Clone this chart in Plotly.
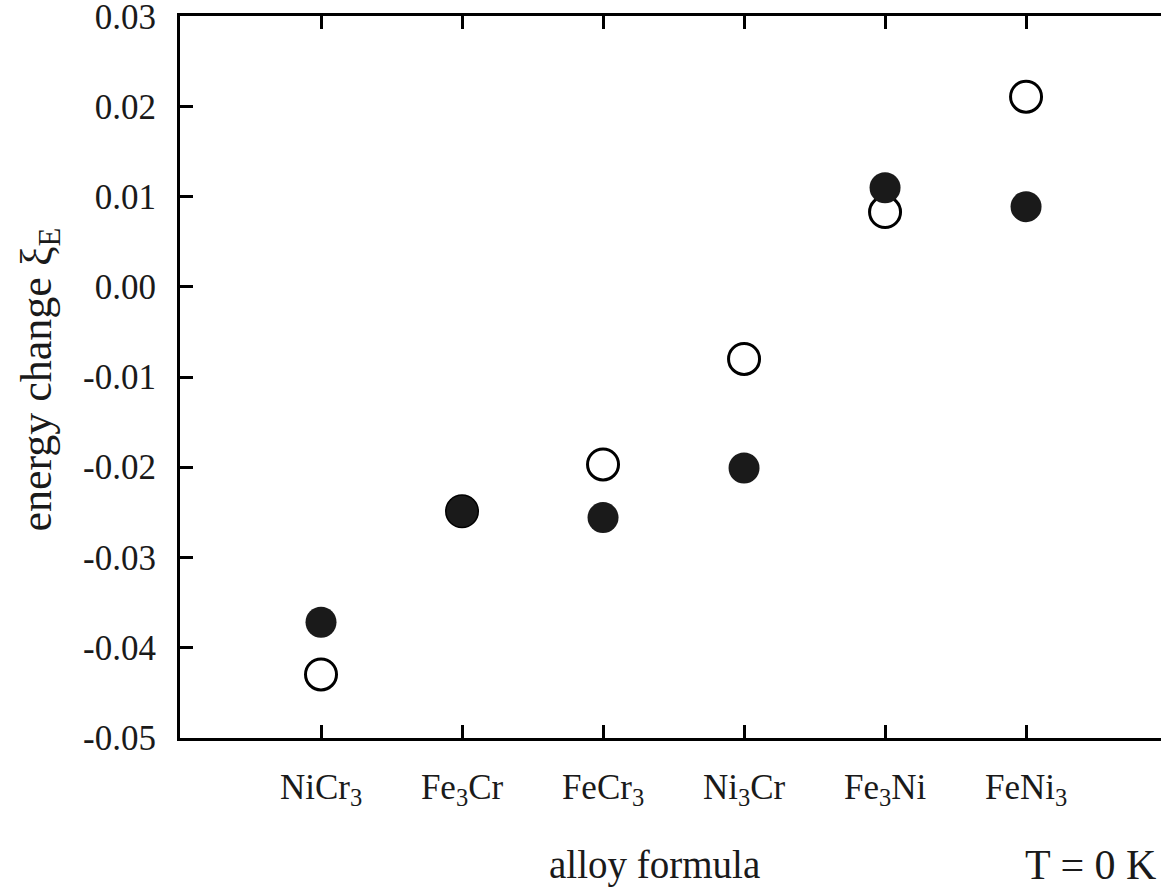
import plotly.graph_objects as go

categories = ["NiCr<sub>3</sub>", "Fe<sub>3</sub>Cr", "FeCr<sub>3</sub>", "Ni<sub>3</sub>Cr", "Fe<sub>3</sub>Ni", "FeNi<sub>3</sub>"]
cat_pos = [1, 2, 3, 4, 5, 6]
open_vals = [-0.0430, -0.0249, -0.0197, -0.0080, 0.0083, 0.0211]
filled_vals = [-0.0372, -0.0249, -0.0256, -0.0201, 0.0110, 0.0089]
y_ticks = [0.03, 0.02, 0.01, 0.00, -0.01, -0.02, -0.03, -0.04, -0.05]
y_ticktext = ["0.03", "0.02", "0.01", "0.00", "-0.01", "-0.02", "-0.03", "-0.04", "-0.05"]

FONT = "Liberation Serif"
Y_RANGE = [-0.05005, 0.03005]

fig = go.Figure()
fig.add_trace(go.Scatter(
    x=cat_pos, y=open_vals, mode="markers",
    marker=dict(size=31, color="white", line=dict(color="black", width=3)),
    showlegend=False, cliponaxis=False))
fig.add_trace(go.Scatter(
    x=cat_pos, y=filled_vals, mode="markers",
    marker=dict(size=31, color="#1a1a1a", line=dict(color="#1a1a1a", width=0)),
    showlegend=False, cliponaxis=False))

fig.update_layout(
    xaxis=dict(
        range=[0, 6.957], tickvals=cat_pos, ticktext=categories,
        showline=True, linecolor="black", linewidth=3, mirror="ticks",
        ticks="inside", ticklen=13, tickwidth=3, tickcolor="black",
        showgrid=False, zeroline=False, automargin=False,
        tickfont=dict(family=FONT, size=35, color="#1a1a1a"),
        ticklabelstandoff=16, ticklabeloverflow="allow"),
    yaxis=dict(
        range=Y_RANGE, tickvals=y_ticks, ticktext=y_ticktext,
        showline=True, linecolor="black", linewidth=3, mirror=False,
        ticks="inside", ticklen=13, tickwidth=3, tickcolor="black",
        showgrid=False, zeroline=False, automargin=False,
        tickfont=dict(family=FONT, size=35, color="#1a1a1a"),
        ticklabelstandoff=14, ticklabeloverflow="allow"),
    yaxis2=dict(
        range=Y_RANGE, tickvals=y_ticks, overlaying="y", side="right",
        showline=False, showticklabels=False,
        ticks="inside", ticklen=13, tickwidth=3, tickcolor="black",
        showgrid=False, zeroline=False, automargin=False),
)

fig.add_annotation(text="alloy formula", xref="paper", yref="paper",
                   x=0.484, y=-0.176, showarrow=False, xanchor="center", yanchor="middle",
                   font=dict(family=FONT, size=39, color="#1a1a1a"))
fig.add_annotation(text="T = 0 K", xref="paper", yref="paper",
                   x=0.997, y=-0.176, showarrow=False, xanchor="right", yanchor="middle",
                   font=dict(family=FONT, size=42, color="#1a1a1a"))
fig.add_annotation(text="energy change ξ<sub>E</sub>", xref="paper", yref="paper",
                   x=-0.143, y=0.496, showarrow=False, xanchor="center", yanchor="middle",
                   textangle=-90,
                   font=dict(family=FONT, size=44, color="#1a1a1a"))

fig.update_layout(
    width=1161, height=891,
    margin=dict(l=180, r=0, t=16, b=153),
    plot_bgcolor="white", paper_bgcolor="white")

fig.write_html("out.html",
               config={"displayModeBar": False},
               post_script="document.body.style.margin='0';document.body.style.overflow='hidden';")
